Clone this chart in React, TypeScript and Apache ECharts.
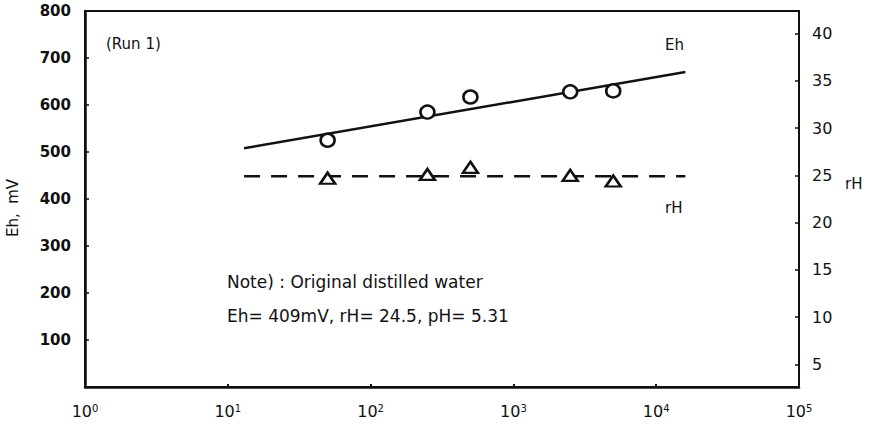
import React, { useEffect, useRef } from "react";
import * as echarts from "echarts";

const xFit = [13, 16000];
const ehFit = [508, 670];
const rhFit = [24.9, 24.9];
const xPoints = [50, 250, 500, 2500, 5000];
const ehValues = [525, 585, 617, 628, 630];
const rhValues = [24.7, 25.1, 25.85, 25.0, 24.4];
const ehTicks = [100, 200, 300, 400, 500, 600, 700, 800];
const rhTicks = [5, 10, 15, 20, 25, 30, 35, 40];
const xTicks = [1, 10, 100, 1000, 10000, 100000];
const noteLines = ["Note) : Original distilled water", "Eh= 409mV, rH= 24.5, pH= 5.31"];

const FONT = "DejaVu Sans";

export default function App() {
  const ref = useRef<HTMLDivElement>(null);
  useEffect(() => {
    const chart = echarts.init(ref.current!, null, { renderer: "svg" });
    const ink = "#111";
    chart.setOption({
      animation: false,
      backgroundColor: "#fff",
      grid: { left: 85, right: 71, top: 11, bottom: 40, show: true, borderColor: ink, borderWidth: 2 },
      xAxis: {
        type: "log",
        logBase: 10,
        min: 1,
        max: 100000,
        axisLine: { lineStyle: { color: ink, width: 2.5 } },
        axisTick: { inside: true, length: 3, lineStyle: { color: ink, width: 2 }, customValues: xTicks },
        splitLine: { show: false },
        minorTick: { show: false },
        axisLabel: {
          margin: 16,
          customValues: xTicks,
          formatter: (v: number) => `10{s|${Math.round(Math.log10(v))}}`,
          color: ink,
          fontFamily: FONT,
          fontSize: 16,
          rich: { s: { fontSize: 10, verticalAlign: "top", padding: [0, 0, 6, 0], fontFamily: FONT, color: ink } },
        },
      },
      yAxis: [
        {
          type: "value",
          min: 0,
          max: 800,
          interval: 100,
          axisLine: { show: true, lineStyle: { color: ink, width: 2.5 } },
          axisTick: { show: true, inside: true, length: 4, lineStyle: { color: ink, width: 1.5 }, customValues: ehTicks },
          splitLine: { show: false },
          axisLabel: { customValues: ehTicks, color: ink, fontFamily: FONT, fontSize: 15, fontWeight: "bold", margin: 14 },
        },
        {
          type: "value",
          min: 2.6,
          max: 42.4,
          position: "right",
          axisLine: { show: true, lineStyle: { color: ink, width: 2 } },
          axisTick: { show: true, inside: true, length: 4, lineStyle: { color: ink, width: 1.5 }, customValues: rhTicks },
          splitLine: { show: false },
          axisLabel: { customValues: rhTicks, color: ink, fontFamily: FONT, fontSize: 16, margin: 13 },
        },
      ],
      graphic: [
        { type: "text", left: 106, top: 36, style: { text: "(Run 1)", font: `15px "${FONT}"`, fill: ink } },
        { type: "text", left: 665, top: 37, style: { text: "Eh", font: `15px "${FONT}"`, fill: ink } },
        { type: "text", left: 665, top: 200, style: { text: "rH", font: `15px "${FONT}"`, fill: ink } },
        { type: "text", left: 845, top: 176, style: { text: "rH", font: `15px "${FONT}"`, fill: ink } },
        { type: "text", left: 227, top: 273, style: { text: noteLines[0], font: `17px "${FONT}"`, fill: ink } },
        { type: "text", left: 227, top: 307, style: { text: noteLines[1], font: `17px "${FONT}"`, fill: ink } },
        {
          type: "text",
          x: 13,
          y: 208,
          rotation: Math.PI / 2,
          style: { text: "Eh,  mV", font: `15px "${FONT}"`, fill: ink, align: "center", verticalAlign: "middle" },
        },
      ],
      series: [
        {
          type: "line",
          data: xFit.map((x, i) => [x, ehFit[i]]),
          symbol: "none",
          lineStyle: { color: ink, width: 2.5 },
          z: 2,
        },
        {
          type: "scatter",
          data: xPoints.map((x, i) => [x, ehValues[i]]),
          symbol: "circle",
          symbolSize: [14, 13],
          itemStyle: { color: "#fff", borderColor: ink, borderWidth: 2.5, opacity: 1 },
          z: 3,
        },
        {
          type: "line",
          yAxisIndex: 1,
          data: xFit.map((x, i) => [x, rhFit[i]]),
          symbol: "none",
          lineStyle: { color: ink, width: 2.5, type: [16, 11] },
          z: 2,
        },
        {
          type: "scatter",
          yAxisIndex: 1,
          data: xPoints.map((x, i) => [x, rhValues[i]]),
          symbol: "triangle",
          symbolSize: [15, 11],
          itemStyle: { color: "#fff", borderColor: ink, borderWidth: 2.5, opacity: 1 },
          z: 3,
        },
      ],
    });
    return () => chart.dispose();
  }, []);
  return <div ref={ref} style={{ position: "fixed", left: 0, top: 0, width: 870, height: 427 }} />;
}
